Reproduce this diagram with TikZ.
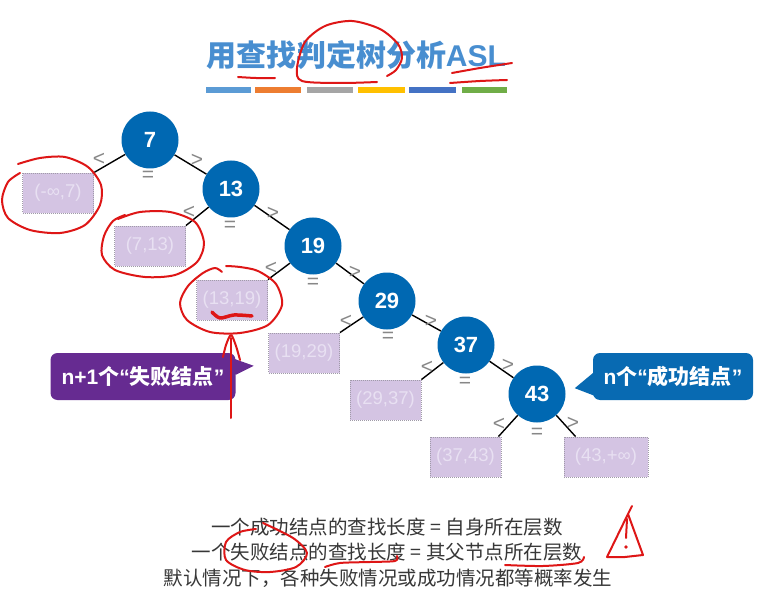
\documentclass[tikz,border=0pt]{standalone}
\usepackage{fontspec}
\setmainfont{Liberation Sans}
\newfontfamily\cjk{Noto Sans CJK SC}
\usetikzlibrary{calc}
\definecolor{nodeblue}{RGB}{0,104,178}
\definecolor{boxfill}{RGB}{212,196,227}
\definecolor{boxline}{RGB}{160,155,168}
\definecolor{boxtext}{RGB}{232,224,242}
\definecolor{lblgray}{RGB}{135,135,135}
\definecolor{titleblue}{RGB}{72,142,208}
\definecolor{callpurple}{RGB}{102,43,145}
\definecolor{callblue}{RGB}{8,106,178}
\definecolor{inkred}{RGB}{222,22,22}
\definecolor{txtgray}{RGB}{55,55,55}
\definecolor{barA}{RGB}{91,155,213}
\definecolor{barB}{RGB}{237,125,49}
\definecolor{barC}{RGB}{165,165,165}
\definecolor{barD}{RGB}{255,192,0}
\definecolor{barE}{RGB}{68,114,196}
\definecolor{barF}{RGB}{112,173,71}
\tikzset{
  tnode/.style={circle, fill=nodeblue, minimum size=57pt, inner sep=0pt, text=white,
    font=\fontsize{22}{22}\selectfont\bfseries},
  fbox/.style={rectangle, fill=boxfill, draw=boxline, dash pattern=on 1pt off 1pt,
    line width=0.9pt, minimum width=71pt, minimum height=40pt, inner sep=0pt,
    text=boxtext, font=\fontsize{18.5}{18.5}\selectfont},
  cmp/.style={text=lblgray, font=\fontsize{21}{21}\selectfont, inner sep=0pt},
  tedge/.style={draw=black, line width=1.4pt},
  redink/.style={draw=inkred, line width=2pt, line cap=round, line join=round},
  callout/.style={rectangle, rounded corners=7pt, text=white, minimum height=47pt,
    inner sep=0pt, font=\fontsize{21}{21}\selectfont\bfseries},
  btext/.style={text=txtgray, inner sep=0pt, font=\cjk\fontsize{19.5}{19.5}\selectfont},
  ttext/.style={text=titleblue, inner sep=0pt, font=\fontsize{30}{30}\selectfont\bfseries},
}
\begin{document}
\begin{tikzpicture}[x=1pt,y=-1pt]
\useasboundingbox (0,0) rectangle (780,599);
\fill[white] (0,0) rectangle (780,599);

% title and colour bars
\node[ttext] (ttl) at (356,55) {{\cjk 用查找判定树分析}ASL};
\fill[barA] (206,87) rectangle (251,93);
\fill[barB] (255,87) rectangle (301,93);
\fill[barC] (307,87) rectangle (353,93);
\fill[barD] (358,87) rectangle (405,93);
\fill[barE] (409,87) rectangle (456,93);
\fill[barF] (462,87) rectangle (507,93);

% tree nodes
\node[tnode] (n7)  at (150,140) {7};
\node[tnode] (n13) at (231,189) {13};
\node[tnode] (n19) at (313,246) {19};
\node[tnode] (n29) at (387,301) {29};
\node[tnode] (n37) at (466,345) {37};
\node[tnode] (n43) at (537,394) {43};

% failure boxes
\node[fbox] (b0) at (58,193) {(-∞,7)};
\node[fbox] (b1) at (150,246) {(7,13)};
\node[fbox] (b2) at (232,300) {(13,19)};
\node[fbox] (b3) at (304,353) {(19,29)};
\node[fbox] (b4) at (385.5,400) {(29,37)};
\node[fbox] (b5) at (465.5,457) {(37,43)};
\node[fbox, minimum width=84pt] (b6) at (606,457) {(43,+∞)};

% edges
\draw[tedge] (n7) -- (b0.north east);
\draw[tedge] (n7) -- (n13);
\draw[tedge] (n13) -- (b1.north east);
\draw[tedge] (n13) -- (n19);
\draw[tedge] (n19) -- (b2.north east);
\draw[tedge] (n19) -- (n29);
\draw[tedge] (n29) -- (b3.north east);
\draw[tedge] (n29) -- (n37);
\draw[tedge] (n37) -- (b4.north east);
\draw[tedge] (n37) -- (n43);
\draw[tedge] (n43) -- ($(b5.north east)+(-3,0)$);
\draw[tedge] (n43) -- ($(b6.north west)+(12,0)$);

% comparison labels
\node[cmp] (lt7) at ($(n7)+(-51,19)$) {<};
\node[cmp] (gt7) at ($(n7)+(47,20)$) {>};
\node[cmp] (eq7) at ($(n7)+(-2,36)$) {=};
\node[cmp] (lt13) at ($(n13)+(-42,23)$) {<};
\node[cmp] (gt13) at ($(n13)+(42,24)$) {>};
\node[cmp] (eq13) at ($(n13)+(-1,37)$) {=};
\node[cmp] (lt19) at ($(n19)+(-42,22)$) {<};
\node[cmp] (gt19) at ($(n19)+(42,26)$) {>};
\node[cmp] (eq19) at ($(n19)+(0,37)$) {=};
\node[cmp] (lt29) at ($(n29)+(-41,20)$) {<};
\node[cmp] (gt29) at ($(n29)+(44,20)$) {>};
\node[cmp] (eq29) at ($(n29)+(1,36)$) {=};
\node[cmp] (lt37) at ($(n37)+(-39,22)$) {<};
\node[cmp] (gt37) at ($(n37)+(42,20)$) {>};
\node[cmp] (eq37) at ($(n37)+(-1,37)$) {=};
\node[cmp] (lt43) at ($(n43)+(-38,30)$) {<};
\node[cmp] (gt43) at ($(n43)+(36,29)$) {>};
\node[cmp] (eq43) at ($(n43)+(0,39)$) {=};

% callouts
\node[callout, fill=callpurple, minimum width=185pt] (pc) at (143,376.5)
  {n+1{\cjk 个}“{\cjk 失败结点}”};
\fill[callpurple] ($(pc.north east)+(-10,3)$) -- ($(pc.north east)+(18,13)$)
  -- ($(pc.north east)+(0,22)$) -- cycle;
\node[callout, fill=callblue, minimum width=160pt] (bc) at (673,376.5)
  {n{\cjk 个}“{\cjk 成功结点}”};
\fill[callblue] ($(bc.south west)+(0,-27)$) -- ($(bc.south west)+(-18,-12)$)
  -- ($(bc.south west)+(8,-2)$) -- cycle;

% bottom text
\node[btext] (l1) at (387,527) {一个成功结点的查找长度 = 自身所在层数};
\node[btext] (l2) at (387,552) {一个失败结点的查找长度 = 其父节点所在层数};
\node[btext] (l3) at (388,578) {默认情况下，各种失败情况或成功情况都等概率发生};

% red hand annotations
\draw[redink] plot[smooth] coordinates {(238,77) (256,78) (275,78)};
\draw[redink] plot[smooth] coordinates {(377,82) (340,83) (302,81) (297,68) (305,42) (325,26) (352,21) (380,29) (398,44) (402,58) (396,70) (387,76)};
\draw[redink] plot[smooth] coordinates {(452,73) (480,68) (512,63)};
\draw[redink] plot[smooth] coordinates {(450,83) (480,81) (507,80)};
\draw[redink] plot[smooth] coordinates {(18,164) (40,158) (65,157) (88,167) (101,185) (100,205) (85,225) (60,233) (30,230) (8,218) (2,200) (8,182) (20,173)};
\draw[redink] plot[smooth] coordinates {(125,215) (113,221) (104,236) (102,255) (115,270) (145,277) (175,275) (197,262) (204,243) (195,222) (170,212) (140,212) (118,219)};
\draw[redink] plot[smooth] coordinates {(222,272) (215,268) (203,273) (188,286) (180,303) (187,320) (210,332) (240,333) (268,325) (282,305) (276,284) (258,271) (240,267) (226,266)};
\draw[redink, line width=3.5pt] plot[smooth] coordinates {(212,312) (220,318) (234,315) (252,316)};
\draw[redink] (231,418) -- (231,338);
\draw[redink] plot[smooth] coordinates {(223,357) (226,345) (231,335) (236,346) (240,360)};
\draw[redink] plot[smooth] coordinates {(263,523) (293,538) (307,553) (296,567) (270,572) (245,570) (226,560) (226,542) (240,532) (256,529)};
\draw[redink] plot[smooth] coordinates {(325,567) (340,563) (370,562) (395,561) (397,556)};
\draw[redink] plot[smooth] coordinates {(505,565) (543,566) (578,563) (584,557)};
\draw[redink] (632,506) -- (628,514) -- (607,557) -- (625,557) -- (643,555) -- (628,514);
\draw[redink] (627,519) -- (626,538);
\fill[inkred] (626,547) circle (1.8pt);
\end{tikzpicture}
\end{document}
